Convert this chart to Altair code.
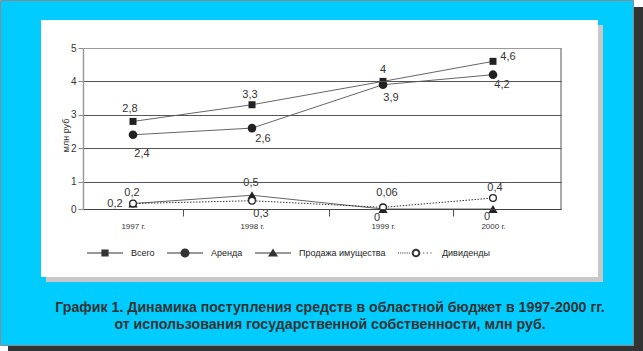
import altair as alt
import pandas as pd

# ---------------- data ----------------
years = [1997, 1998, 1999, 2000]
series_names = ["Всего", "Аренда", "Продажа имущества", "Дивиденды"]
vsego = [2.8, 3.3, 4.0, 4.6]
arenda = [2.4, 2.6, 3.9, 4.2]
prodazha = [0.2, 0.5, 0.0, 0.0]
dividendy = [0.2, 0.3, 0.06, 0.4]
y_ticks = [0, 1, 2, 3, 4, 5]
x_tick_marks = [1997.42, 1998.59, 1999.64]
y_title = "млн руб"
caption = [
    "График 1. Динамика поступления средств в областной бюджет в 1997-2000 гг.",
    "от использования государственной собственности, млн руб.",
]

values = [vsego, arenda, prodazha, dividendy]
rows = []
for s, vals in zip(series_names, values):
    for yr, v in zip(years, vals):
        rows.append({"series": s, "year": yr, "value": v,
                     "label": f"{v:g}".replace(".", ",")})
df = pd.DataFrame(rows)

# ---------------- layout / style ----------------
W, H = 478, 161
FONT = "Liberation Sans"
INK = "#222222"

xscale = alt.Scale(domain=[1996.58, 1997, 1998, 1999, 2000, 2000.62],
                   range=[0, 50, 169, 300, 410, W], nice=False, zero=False)
yscale = alt.Scale(domain=[0, 1, 5], range=[H, 133.5, 0], nice=False, zero=False)

is_year = "indexof([1997,1998,1999,2000], datum.value) >= 0"
xaxis = alt.Axis(
    values=years + x_tick_marks, title=None, grid=False,
    domainColor="#444", domainWidth=1,
    tickSize=7, tickColor="#555",
    tickOpacity={"condition": {"test": is_year, "value": 0}, "value": 1},
    labelExpr=f"{is_year} ? datum.value + ' г.' : ''",
    labelFontSize=8, labelFont=FONT, labelColor="#333", labelPadding=6,
    labelOverlap=False, labelFlush=False, zindex=1,
)
yaxis = alt.Axis(
    values=y_ticks, grid=True,
    gridColor={"condition": {"test": "datum.value == 5", "value": "#9a9a9a"}, "value": "#555"},
    gridWidth=1.2,
    domainColor="#9a9a9a", domainWidth=1.5,
    tickColor="#888", tickSize=5,
    labelFontSize=10, labelFont=FONT, labelColor="#333", labelPadding=2,
    title=y_title, titleFontSize=9, titleFont=FONT, titleFontWeight="normal",
    titleColor="#333", titleX=-18, titleY=87, titleAngle=270,
    titleAlign="center", titleBaseline="middle", zindex=1,
)
X = alt.X("year:Q", scale=xscale, axis=xaxis)
Y = alt.Y("value:Q", scale=yscale, axis=yaxis)

one = alt.Data(values=[{"k": 0}])


def box(x1, x2, y1, y2, **kw):
    return alt.Chart(one).mark_rect(**kw).encode(
        x=alt.value(x1), x2=alt.value(x2), y=alt.value(y1), y2=alt.value(y2))


layers = [
    box(-75, 560, -41, 303, color="#333333"),
    box(-82.5, 550.5, -47.5, 297.5, fill="#00CCFF", stroke="#8a8a8a", strokeWidth=1),
    box(-37, 520, -23, 234, color="#c8c8c8"),
    box(-42, 515, -28, 229, color="#ffffff"),
    alt.Chart(one).mark_rule(color="#555", strokeWidth=1).encode(
        x=alt.value(W), y=alt.value(0), y2=alt.value(H)),
]

line_style = {
    "Всего": dict(color="#666", strokeWidth=1),
    "Аренда": dict(color="#666", strokeWidth=1),
    "Продажа имущества": dict(color="#666", strokeWidth=1),
    "Дивиденды": dict(color="#333", strokeWidth=1, strokeDash=[1.5, 1.5]),
}
point_style = {
    "Всего": dict(shape="square", size=49, filled=True, color=INK, opacity=1),
    "Аренда": dict(shape="circle", size=75, filled=True, color=INK, opacity=1),
    "Продажа имущества": dict(shape="triangle-up", size=85, filled=True, color=INK, opacity=1),
    "Дивиденды": dict(shape="circle", size=45, filled=True, fill="white",
                      stroke=INK, strokeWidth=1.3, opacity=1),
}
for s in series_names:
    layers.append(alt.Chart(df).transform_filter(f"datum.series == '{s}'")
                  .mark_line(**line_style[s]).encode(x=X, y=Y))
for s in series_names:
    layers.append(alt.Chart(df).transform_filter(f"datum.series == '{s}'")
                  .mark_point(**point_style[s]).encode(x=X, y=Y))

# data label placement (dx, dy) per point
label_offsets = {
    "Всего": [(-3, -12), (-2, -10), (0, -11), (15, -4)],
    "Аренда": [(9, 19), (11, 11), (8, 13), (9, 10)],
    "Продажа имущества": [(-1, -11), (-1, -12), (-6, 9), (-6, 8)],
    "Дивиденды": [(-18, 0), (9, 13), (4, -14), (2, -10)],
}
for s in series_names:
    for yr, (dx, dy) in zip(years, label_offsets[s]):
        layers.append(
            alt.Chart(df)
            .transform_filter(f"datum.series == '{s}' && datum.year == {yr}")
            .mark_text(dx=dx, dy=dy, fontSize=11, font=FONT, color="#333",
                       align="center", baseline="middle")
            .encode(x=X, y=Y, text="label:N"))

# legend symbols: line with marker (unit box -1..1)
line_part = "M-1,-0.03H1V0.03H-1Z"
dots = "".join(f"M{a:.2f},-0.03h0.06v0.06h-0.06Z" for a in
               [-1.0, -0.88, -0.76, -0.64, -0.52, -0.40, 0.40, 0.60, 0.80])
legend_paths = [
    line_part + "M-0.2,-0.2H0.2V0.2H-0.2Z",
    line_part + "M-0.25,0A0.25,0.25,0,1,1,0.25,0A0.25,0.25,0,1,1,-0.25,0Z",
    line_part + "M0,-0.25L0.28,0.2L-0.28,0.2Z",
    dots + "M-0.24,0A0.24,0.24,0,1,1,0.24,0A0.24,0.24,0,1,1,-0.24,0Z"
           "M-0.13,0A0.13,0.13,0,1,0,0.13,0A0.13,0.13,0,1,0,-0.13,0Z",
]
legend = alt.Legend(
    title=None, orient="none", legendX=4, legendY=187, direction="horizontal",
    symbolSize=1296, symbolStrokeWidth=0, symbolFillColor="#333", symbolOpacity=1,
    labelFontSize=9, labelFont=FONT, labelColor=INK, labelOffset=8,
    columnPadding=12, padding=0,
)
layers.append(
    alt.Chart(df).transform_filter("false")
    .mark_point(filled=True, color="#333", opacity=1)
    .encode(x=X, y=Y,
            shape=alt.Shape("series:N",
                            scale=alt.Scale(domain=series_names, range=legend_paths),
                            legend=legend)))

# caption
for i, line in enumerate(caption):
    layers.append(
        alt.Chart(one).mark_text(fontSize=14.2, fontWeight="bold", font=FONT,
                                 color="#333", align="center", baseline="middle")
        .encode(x=alt.value(247), y=alt.value(260 + 17 * i), text=alt.value(line)))

chart = (
    alt.layer(*layers)
    .properties(width=W, height=H, padding=0, background="white")
    .configure_view(stroke=None)
)
chart.save("out.html", embed_options={"renderer": "svg", "actions": False})
